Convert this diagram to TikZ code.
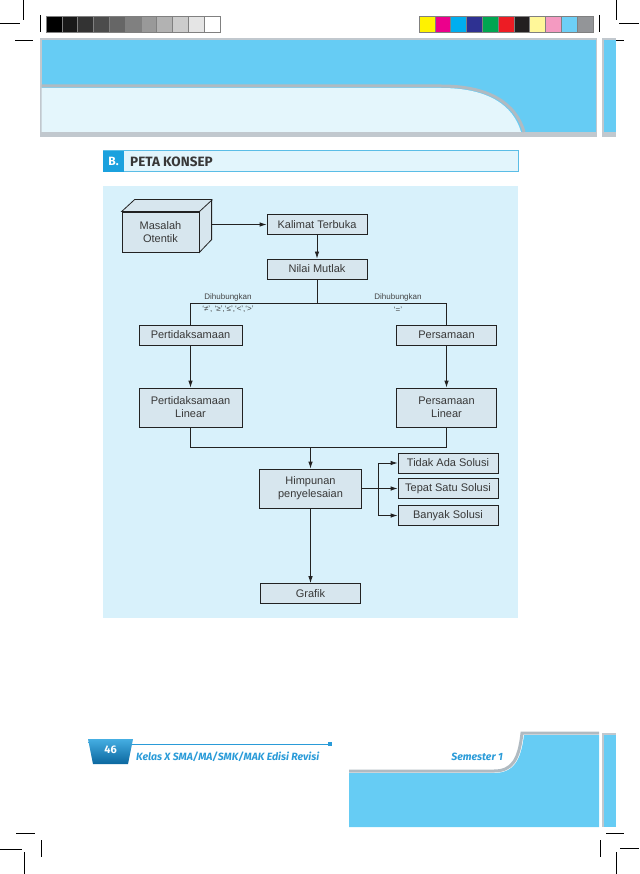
\documentclass[tikz,border=0pt]{standalone}
\usepackage{fontspec}
\setmainfont{Liberation Sans}
\newfontfamily\judulfont{Fira Sans}
\usetikzlibrary{arrows.meta}

\definecolor{pitabiru}{HTML}{66CCF4}
\definecolor{pitamuda}{HTML}{E4F6FC}
\definecolor{bayang}{HTML}{8E9CA6}
\definecolor{latar}{HTML}{D8F1FB}
\definecolor{isikotak}{HTML}{D7E6EE}
\definecolor{garis}{HTML}{222222}
\definecolor{judulbiru}{HTML}{1BA1DE}
\definecolor{judulisi}{HTML}{E2F5FC}
\definecolor{judultepi}{HTML}{5BBDE6}
\definecolor{kakibiru}{HTML}{2A9BD8}
\definecolor{tabatas}{HTML}{45AEE2}
\definecolor{tabbawah}{HTML}{0B679F}
% warna strip cetak
\definecolor{cy}{HTML}{FFF200}
\definecolor{cm}{HTML}{EC008C}
\definecolor{cc}{HTML}{00AEEF}
\definecolor{cb}{HTML}{2E3192}
\definecolor{cg}{HTML}{00A651}
\definecolor{cr}{HTML}{ED1C24}
\definecolor{ck}{HTML}{231F20}
\definecolor{cly}{HTML}{FFF799}
\definecolor{cp}{HTML}{F49AC1}
\definecolor{clc}{HTML}{6DCFF6}
\definecolor{cgr}{HTML}{939598}

\begin{document}
\begin{tikzpicture}[x=1pt,y=-1pt,>={Latex[length=7pt,width=4.5pt]}]

        \tikzstyle{kotak} = [draw=garis, fill=isikotak, rectangle, line width=0.8pt, minimum width=100pt, minimum height=20pt, inner sep=1pt, align=center, text=garis!90, font=\fontsize{11}{13}\selectfont];
        \tikzstyle{panah} = [->, draw=garis, line width=0.8pt];
        \tikzstyle{sambung} = [draw=garis, line width=0.8pt];
        \tikzstyle{ket} = [inner sep=0pt, text=garis!85, font=\fontsize{8}{9}\selectfont];
        \tikzstyle{potong} = [line width=0.7pt];

        \useasboundingbox (0,0) rectangle (639,874);

        % tanda potong
        \draw[potong] (0,23) -- (20,23) (23,0) -- (23,20) (40,15) -- (40,32) (15,40) -- (33,40);
        \draw[potong] (619,23) -- (639,23) (616,0) -- (616,20) (599,15) -- (599,32) (606,40) -- (624,40);
        \draw[potong] (16,833) -- (35,833) (41,840) -- (41,857) (0,849) -- (22,849) (24,852) -- (24,874);
        \draw[potong] (606,833) -- (624,833) (600,840) -- (600,857) (620,848) -- (639,848) (616,852) -- (616,874);

        % strip warna
        \foreach \g [count=\i from 0] in {100,90,80,70,60,50,40,30,20,10,0}
            \draw[gray, line width=0.5pt, fill=black!\g] (46+15.8*\i,16) rectangle ++(15.8,16);
        \foreach \c [count=\i from 0] in {cy,cm,cc,cb,cg,cr,ck,cly,cp,clc,cgr}
            \draw[gray, line width=0.5pt, fill=\c] (419+15.8*\i,16) rectangle ++(15.8,16);

        % pita atas
        \fill[bayang!55] (40,38) rectangle (597,137);
        \fill[pitabiru] (41.5,40.5) rectangle (595.5,132);
        \draw[bayang!70, line width=3pt] (41.5,86) -- (441,86) .. controls (490,86) and (516,104) .. (524,132);
        \fill[pitamuda] (41.5,88) -- (441,88) .. controls (488,88) and (513,105) .. (521,132) -- (41.5,132) -- cycle;
        \fill[bayang!55] (602,38) rectangle (616,137);
        \fill[pitabiru] (603.5,40.5) rectangle (616,132);

        % judul
        \draw[draw=judultepi, fill=judulisi, line width=1pt] (103,151) rectangle (518,172);
        \fill[judulbiru] (103,151) rectangle (124,172);
        \node[text=white, font=\judulfont\bfseries\fontsize{12}{14}\selectfont] (huruf) at (113.5,161.5) {B.};
        \node[anchor=west, inner sep=0pt, text=garis!90, font=\judulfont\bfseries\fontsize{13.5}{15}\selectfont] (judul) at (130,161.5) {PETA KONSEP};

        % latar peta
        \fill[latar] (103,186) rectangle (518,618);

        % kotak-kotak
        \node[kotak, minimum width=77pt, minimum height=40pt] (masalah) at (160.5,232) {Masalah\\Otentik};
        \draw[sambung, fill=isikotak] (masalah.north west) -- ++(13,-12) -- ++(77,0) -- ++(0,40) -- (masalah.south east) -- (masalah.north east) -- cycle;
        \draw[sambung] (masalah.north east) -- ++(13,-12);
        \coordinate (sisi) at (212,224.5);

        \node[kotak] (kalimat) at (317,224.5) {Kalimat Terbuka};
        \node[kotak] (nilai) at (317,269) {Nilai Mutlak};
        \node[kotak, minimum width=103pt] (pertidak) at (190.5,335) {Pertidaksamaan};
        \node[kotak] (persamaan) at (446.5,335) {Persamaan};
        \node[kotak, minimum width=103pt, minimum height=39pt] (pertidaklin) at (190.5,407.5) {Pertidaksamaan\\Linear};
        \node[kotak, minimum height=39pt] (persamaanlin) at (446.5,407.5) {Persamaan\\Linear};
        \node[kotak, minimum width=102pt, minimum height=39pt] (himpunan) at (310.5,488.5) {Himpunan\\penyelesaian};
        \node[kotak] (tidak) at (448,463) {Tidak Ada Solusi};
        \node[kotak] (tepat) at (448,488.5) {Tepat Satu Solusi};
        \node[kotak] (banyak) at (448,515.5) {Banyak Solusi};
        \node[kotak] (grafik) at (310.5,593.5) {Grafik};

        \coordinate (cabang) at (317.5,303.5);
        \coordinate (gabung) at (310.5,447.5);
        \coordinate (pecah) at (378.5,488.5);

        % penghubung
        \draw[panah] (sisi) -- (kalimat);
        \draw[panah] (kalimat) -- (nilai);
        \draw[sambung] (nilai.south) -- (nilai.south |- cabang);
        \draw[sambung] (pertidak.north) |- (cabang) -| (persamaan.north);
        \draw[panah] (pertidak) -- (pertidaklin);
        \draw[panah] (persamaan) -- (persamaanlin);
        \draw[sambung] (pertidaklin.south) |- (gabung) -| (persamaanlin.south);
        \draw[panah] (gabung) -- (himpunan);
        \draw[sambung] (himpunan.east) -- (pecah);
        \draw[panah] (pecah) |- (tidak.west);
        \draw[panah] (pecah) -- (tepat.west);
        \draw[panah] (pecah) |- (banyak.west);
        \draw[panah] (himpunan) -- (grafik);

        \node[ket] (hubkiri) at (228,297) {Dihubungkan};
        \node[ket] (tandakiri) at (228,309.5) {‘≠’, ‘≥’,‘≤’,‘<’,‘>’};
        \node[ket] (hubkanan) at (398,297) {Dihubungkan};
        \node[ket] (tandakanan) at (398,309.5) {‘=’};

        % pita bawah
        \draw[bayang!70, line width=3pt] (349,771) -- (494,771) .. controls (512,771) and (519,760) .. (522,733) -- (599,733);
        \fill[pitabiru] (349,773) -- (494,773) .. controls (514,773) and (521,760) .. (524,735) -- (599,735) -- (599,827) -- (349,827) -- cycle;
        \fill[bayang!55] (602,733) rectangle (616,827);
        \fill[pitabiru] (603.5,735) rectangle (616,827);

        % kaki halaman
        \draw[kakibiru, line width=1pt] (132,744) -- (330,744);
        \fill[kakibiru] (328,742) rectangle (332,746);
        \shade[top color=tabatas, bottom color=tabbawah] (88,739) -- (133,739) -- (128,764) -- (93,764) -- cycle;
        \node[text=white, font=\judulfont\bfseries\fontsize{11}{12}\selectfont] (halaman) at (110.5,750) {46};
        \node[anchor=west, inner sep=0pt, text=kakibiru, font=\judulfont\bfseries\itshape\fontsize{10.5}{12}\selectfont] (buku) at (136,757) {Kelas X SMA/MA/SMK/MAK Edisi Revisi};
        \node[anchor=east, inner sep=0pt, text=kakibiru, font=\judulfont\bfseries\itshape\fontsize{10.5}{12}\selectfont] (semester) at (503,757) {Semester 1};

    \end{tikzpicture}
\end{document}
